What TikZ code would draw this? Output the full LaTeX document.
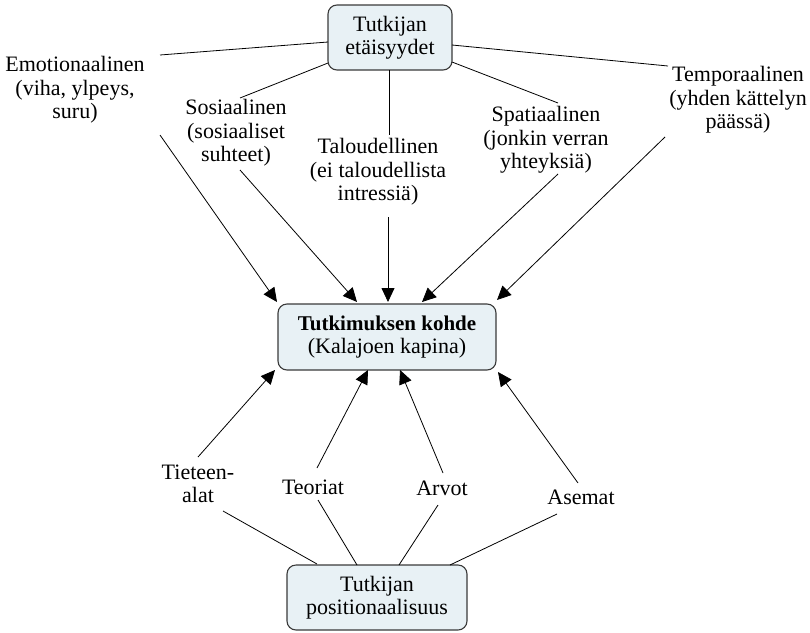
\documentclass[tikz,border=0pt]{standalone}
\usepackage{fontspec}
\setmainfont{Liberation Serif}
\usetikzlibrary{calc,arrows.meta}
\definecolor{boxfill}{HTML}{E8F1F5}
\definecolor{boxline}{HTML}{3A3A3A}
\begin{document}
\begin{tikzpicture}[x=1pt,y=-1pt,
  every node/.style={font=\fontsize{22}{23.5}\selectfont, align=center, inner sep=0pt},
  concept/.style={draw=boxline, fill=boxfill, line width=1.1pt, rounded corners=9pt},
  link/.style={line width=0.8pt, black},
  arr/.style={line width=0.8pt, black, -{Triangle[length=14pt,width=13pt]}}]
\useasboundingbox (0,0) rectangle (810,632);
% main concepts
\node[concept, minimum width=124pt, minimum height=65pt] (top) at (390,37.5) {Tutkijan\\[-1pt]etäisyydet};
\node[concept, minimum width=218pt, minimum height=66pt] (ctr) at (387,337) {{\fontsize{21}{23.5}\selectfont\bfseries Tutkimuksen kohde}\\(Kalajoen kapina)};
\node[concept, minimum width=180pt, minimum height=65pt] (bot) at (377,597.5) {Tutkijan\\positionaalisuus};
% linking phrases (top)
\node (emo) at (75,90) {Emotionaalinen\\(viha, ylpeys,\\suru)};
\node (sos) at (236,133) {Sosiaalinen\\(sosiaaliset\\suhteet)};
\node (tal) at (378,172) {Taloudellinen\\(ei taloudellista\\intressiä)};
\node (spa) at (546,140) {Spatiaalinen\\(jonkin verran\\yhteyksiä)};
\node (tem) at (738,100) {Temporaalinen\\(yhden kättelyn\\päässä)};
% linking phrases (bottom)
\node (tie) at (198,484) {Tieteen-\\alat};
\node (teo) at (313,487) {Teoriat};
\node (arv) at (442,488) {Arvot};
\node (ase) at (581,497) {Asemat};
% top lines
\draw[link] ($(top)+(-62,4.5)$) -- ($(emo)+(85,-35)$);
\draw[link] ($(top)+(-62,25.5)$) -- ($(sos)+(4,-35)$);
\draw[link] ($(top)+(-1,32.5)$) -- ($(tal)+(11,-37)$);
\draw[link] ($(top)+(62,24.5)$) -- ($(spa)+(12,-37)$);
\draw[link] ($(top)+(62,7.5)$) -- ($(tem)+(-70,-34)$);
% top arrows
\draw[arr] ($(emo)+(85,45)$) -- ($(ctr)+(-110,-35)$);
\draw[arr] ($(sos)+(4,37)$) -- ($(ctr)+(-30,-35)$);
\draw[arr] ($(tal)+(10,45)$) -- ($(ctr)+(1,-35)$);
\draw[arr] ($(spa)+(12,34)$) -- ($(ctr)+(35,-35)$);
\draw[arr] ($(tem)+(-73,37)$) -- ($(ctr)+(110,-37)$);
% bottom lines
\draw[link] ($(bot)+(-60,-33.5)$) -- ($(tie)+(25,27)$);
\draw[link] ($(bot)+(-20,-32.5)$) -- ($(teo)+(5,13)$);
\draw[link] ($(bot)+(22,-32.5)$) -- ($(arv)+(-4,17)$);
\draw[link] ($(bot)+(73,-32.5)$) -- ($(ase)+(-24,17)$);
% bottom arrows
\draw[arr] ($(tie)+(0,-27)$) -- ($(ctr)+(-112,33)$);
\draw[arr] ($(teo)+(4,-19)$) -- ($(ctr)+(-19,33)$);
\draw[arr] ($(arv)+(1,-15)$) -- ($(ctr)+(13,33)$);
\draw[arr] ($(ase)+(-3,-14)$) -- ($(ctr)+(111,35)$);
\end{tikzpicture}
\end{document}
